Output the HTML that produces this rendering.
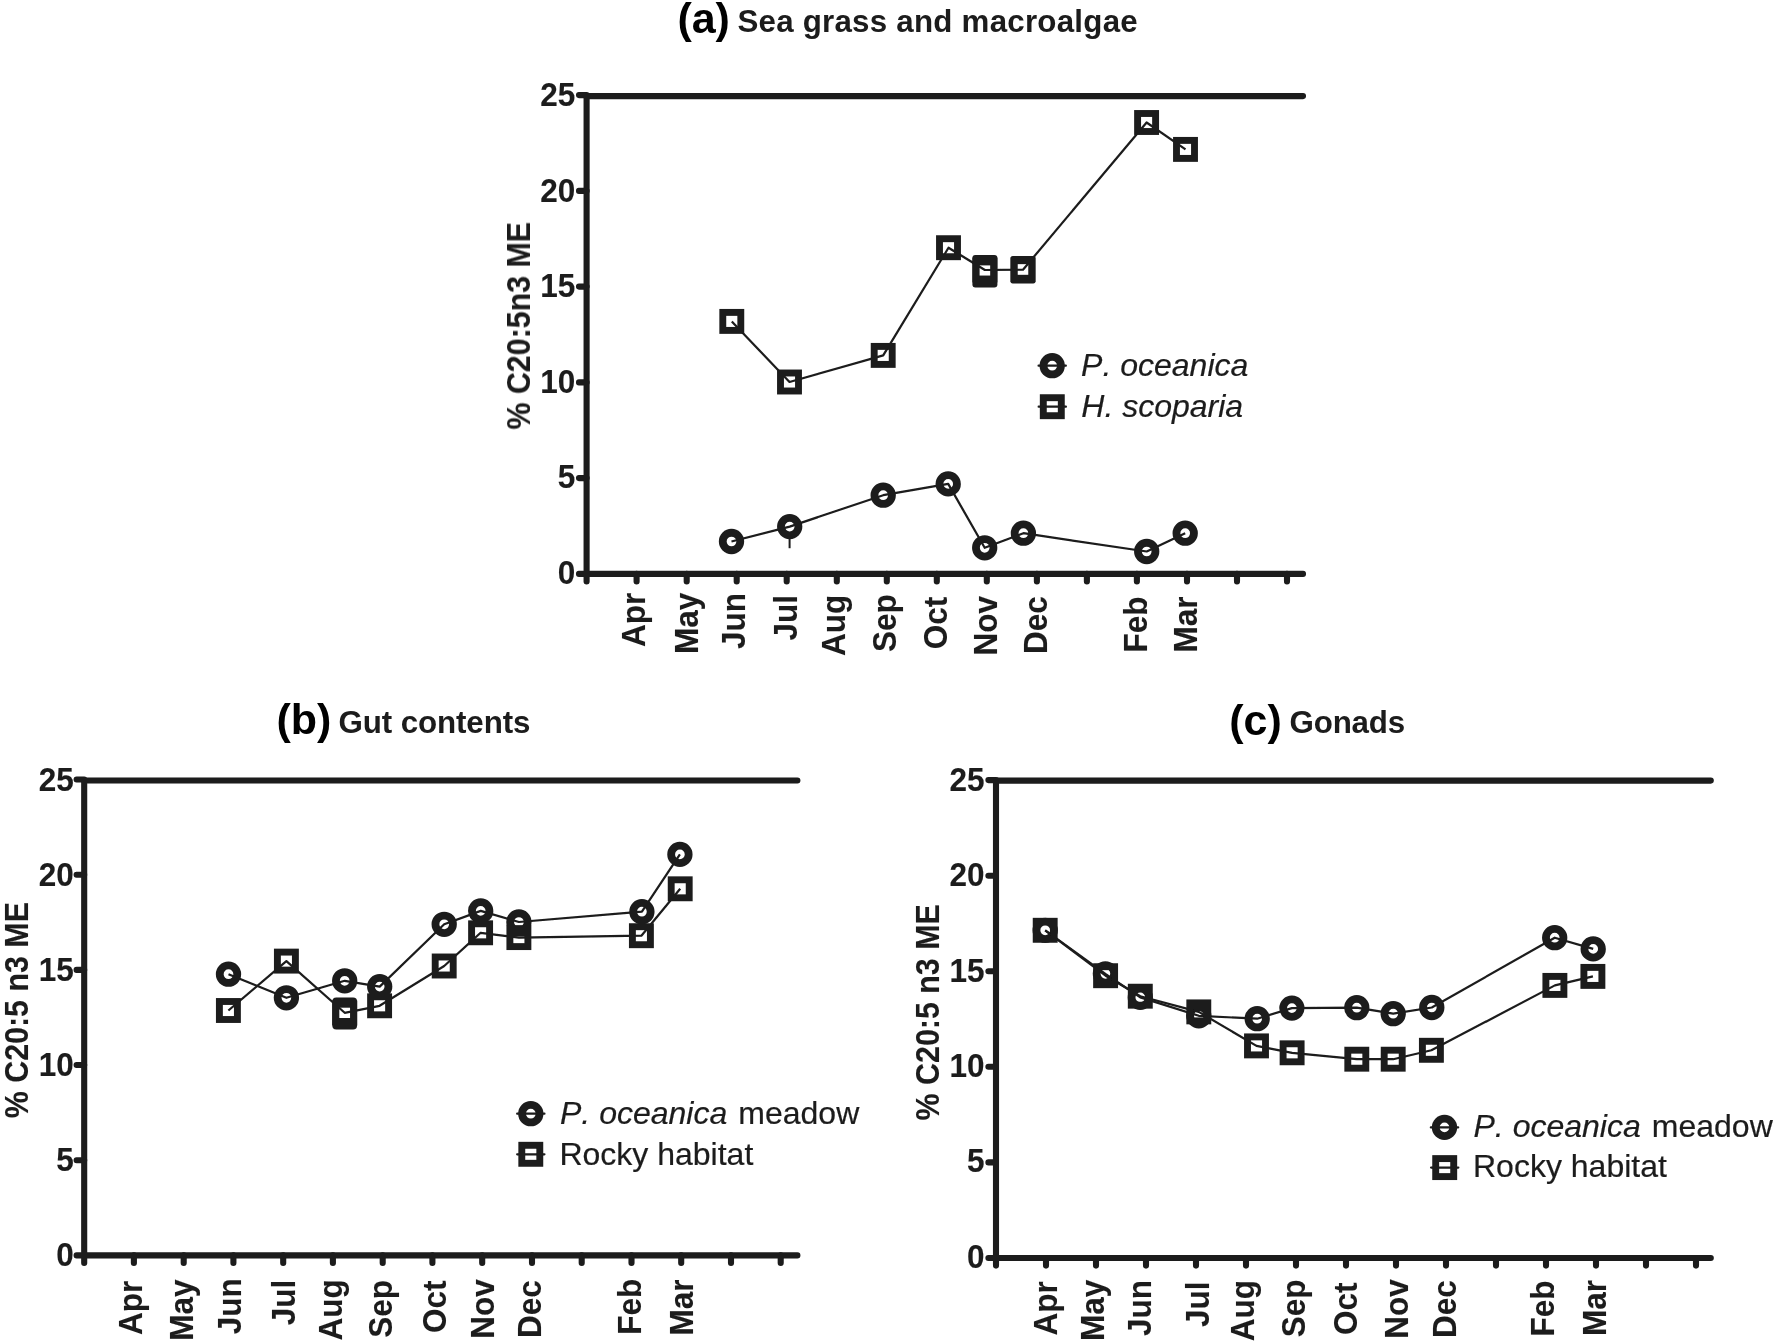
<!DOCTYPE html>
<html lang="en"><head><meta charset="utf-8"><title>Seasonal % C20:5n3 ME</title>
<style>
html,body{margin:0;padding:0;background:#fff}
svg{display:block}
text{font-family:"Liberation Sans",Arial,Helvetica,sans-serif;fill:#1b1b1b}
.b{font-weight:bold;font-size:31.5px;stroke:#1b1b1b;stroke-width:0.1px;stroke-linejoin:round}
.t{font-weight:bold;font-size:31.3px}
.tag{font-weight:bold;font-size:43px;fill:#000}
.i{font-style:italic}
.lg{white-space:pre;font-kerning:none;stroke:#1b1b1b;stroke-width:0.2px}
</style></head><body>
<svg width="1776" height="1344" viewBox="0 0 1776 1344">
<defs><filter id="soft" x="0" y="0" width="1776" height="1344" filterUnits="userSpaceOnUse"><feGaussianBlur stdDeviation="0.45"/></filter></defs>
<rect width="1776" height="1344" fill="#fff"/>
<g filter="url(#soft)">
<path d="M586.6 96.1V581.5M579.0 573.9H1303.0M586.6 96.1H1303.0" fill="none" stroke="#1b1b1b" stroke-width="6.1" stroke-linecap="round" stroke-linejoin="round"/>
<path d="M636.6 573.9v7.6M686.7 573.9v7.6M736.7 573.9v7.6M786.7 573.9v7.6M836.8 573.9v7.6M886.8 573.9v7.6M936.8 573.9v7.6M986.8 573.9v7.6M1036.9 573.9v7.6M1086.9 573.9v7.6M1136.9 573.9v7.6M1187.0 573.9v7.6M1237.0 573.9v7.6M1287.0 573.9v7.6M586.6 478.1h-7.6M586.6 382.4h-7.6M586.6 286.6h-7.6M586.6 190.9h-7.6M586.6 95.1h-7.6" fill="none" stroke="#1b1b1b" stroke-width="6.1" stroke-linecap="round"/>
<text transform="translate(575.3 583.6) scale(1 1.03)" text-anchor="end" class="b">0</text>
<text transform="translate(575.3 488.1) scale(1 1.03)" text-anchor="end" class="b">5</text>
<text transform="translate(575.3 392.6) scale(1 1.03)" text-anchor="end" class="b">10</text>
<text transform="translate(575.3 297.1) scale(1 1.03)" text-anchor="end" class="b">15</text>
<text transform="translate(575.3 201.6) scale(1 1.03)" text-anchor="end" class="b">20</text>
<text transform="translate(575.3 106.1) scale(1 1.03)" text-anchor="end" class="b">25</text>
<text transform="translate(529.9 429.6) rotate(-90) scale(0.95 1.03)" class="b" style="font-size:32px">% C20:5n3 ME</text>
<text x="677.4" y="33.0" class="tag">(a)</text>
<text transform="translate(737.4 31.6) scale(1 1.03)" class="t" textLength="400.3" lengthAdjust="spacing">Sea grass and macroalgae</text>
<text transform="translate(644.6 646.9) rotate(-90) scale(1.0 1.03)" class="b" style="font-size:31.5px">Apr</text>
<text transform="translate(697.7 654.0) rotate(-90) scale(1.0 1.03)" class="b" style="font-size:31.5px">May</text>
<text transform="translate(744.9 649.0) rotate(-90) scale(1.0 1.03)" class="b" style="font-size:31.5px">Jun</text>
<text transform="translate(797.2 640.6) rotate(-90) scale(1.0 1.03)" class="b" style="font-size:31.5px">Jul</text>
<text transform="translate(844.6 655.9) rotate(-90) scale(1.0 1.03)" class="b" style="font-size:31.5px">Aug</text>
<text transform="translate(896.3 652.0) rotate(-90) scale(1.0 1.03)" class="b" style="font-size:31.5px">Sep</text>
<text transform="translate(946.8 649.3) rotate(-90) scale(1.0 1.03)" class="b" style="font-size:31.5px">Oct</text>
<text transform="translate(996.8 655.5) rotate(-90) scale(1.0 1.03)" class="b" style="font-size:31.5px">Nov</text>
<text transform="translate(1047.3 653.9) rotate(-90) scale(1.0 1.03)" class="b" style="font-size:31.5px">Dec</text>
<text transform="translate(1147.1 652.6) rotate(-90) scale(1.0 1.03)" class="b" style="font-size:31.5px">Feb</text>
<text transform="translate(1196.8 652.6) rotate(-90) scale(1.0 1.03)" class="b" style="font-size:31.5px">Mar</text>
<path d="M789.6 535V548.2" stroke="#1b1b1b" stroke-width="2"/>
<rect x="972.4" y="255" width="25" height="32.4" rx="3" fill="#1b1b1b"/><rect x="979.4" y="265.4" width="11" height="10.6" fill="#fff"/>
<rect x="1010.6" y="255.9" width="24.8" height="27.5" rx="2" fill="#1b1b1b"/><rect x="1017.5" y="264" width="11" height="10.8" fill="#fff"/>
<path d="M731.5 541.5L789.7 526.6L883.2 495.2L948.2 483.9L984.7 547.8L1023.4 533.2L1146.7 551.5L1185.2 533.2" fill="none" stroke="#1b1b1b" stroke-width="2.2" stroke-linejoin="round"/>
<circle cx="731.5" cy="541.5" r="8.75" fill="none" stroke="#1b1b1b" stroke-width="7.8"/>
<circle cx="789.7" cy="526.6" r="8.75" fill="none" stroke="#1b1b1b" stroke-width="7.8"/>
<circle cx="883.2" cy="495.2" r="8.75" fill="none" stroke="#1b1b1b" stroke-width="7.8"/>
<circle cx="948.2" cy="483.9" r="8.75" fill="none" stroke="#1b1b1b" stroke-width="7.8"/>
<circle cx="984.7" cy="547.8" r="8.75" fill="none" stroke="#1b1b1b" stroke-width="7.8"/>
<circle cx="1023.4" cy="533.2" r="8.75" fill="none" stroke="#1b1b1b" stroke-width="7.8"/>
<circle cx="1146.7" cy="551.5" r="8.75" fill="none" stroke="#1b1b1b" stroke-width="7.8"/>
<circle cx="1185.2" cy="533.2" r="8.75" fill="none" stroke="#1b1b1b" stroke-width="7.8"/>
<path d="M731.8 321.4L789.5 382.0L883.2 355.4L948.5 247.7L984.9 270.0L1023.0 269.7L1146.6 122.5L1185.5 149.4" fill="none" stroke="#1b1b1b" stroke-width="2.2" stroke-linejoin="round"/>
<rect x="722.8" y="312.4" width="18" height="18" fill="none" stroke="#1b1b1b" stroke-width="6.9"/>
<rect x="780.5" y="373.0" width="18" height="18" fill="none" stroke="#1b1b1b" stroke-width="6.9"/>
<rect x="874.2" y="346.4" width="18" height="18" fill="none" stroke="#1b1b1b" stroke-width="6.9"/>
<rect x="939.5" y="238.7" width="18" height="18" fill="none" stroke="#1b1b1b" stroke-width="6.9"/>
<rect x="975.9" y="261.0" width="18" height="18" fill="none" stroke="#1b1b1b" stroke-width="6.9"/>
<rect x="1014.0" y="260.7" width="18" height="18" fill="none" stroke="#1b1b1b" stroke-width="6.9"/>
<rect x="1137.6" y="113.5" width="18" height="18" fill="none" stroke="#1b1b1b" stroke-width="6.9"/>
<rect x="1176.5" y="140.4" width="18" height="18" fill="none" stroke="#1b1b1b" stroke-width="6.9"/>
<path d="M1038.6 365.7h27.2" stroke="#1b1b1b" stroke-width="2.3" stroke-linecap="round"/>
<circle cx="1052.2" cy="365.7" r="8.75" fill="none" stroke="#1b1b1b" stroke-width="7.8"/>
<path d="M1038.7 406.7h27.2" stroke="#1b1b1b" stroke-width="2.3" stroke-linecap="round"/>
<rect x="1043.3" y="397.7" width="18" height="18" fill="none" stroke="#1b1b1b" stroke-width="6.9"/>
<text x="1081.1" y="375.7" class="lg" style="font-size:32px"><tspan class="i">P. oceanica</tspan></text>
<text x="1081.3" y="416.6" class="lg" style="font-size:32px"><tspan class="i">H. scoparia</tspan></text>
<path d="M84.2 780.5V1263.0M76.6 1255.4H797.4M84.2 780.5H797.4" fill="none" stroke="#1b1b1b" stroke-width="6.1" stroke-linecap="round" stroke-linejoin="round"/>
<path d="M133.9 1255.4v7.6M183.7 1255.4v7.6M233.4 1255.4v7.6M283.2 1255.4v7.6M332.9 1255.4v7.6M382.7 1255.4v7.6M432.4 1255.4v7.6M482.2 1255.4v7.6M532.0 1255.4v7.6M581.7 1255.4v7.6M631.5 1255.4v7.6M681.2 1255.4v7.6M731.0 1255.4v7.6M780.7 1255.4v7.6M84.2 1160.2h-7.6M84.2 1065.0h-7.6M84.2 969.9h-7.6M84.2 874.7h-7.6M84.2 779.5h-7.6" fill="none" stroke="#1b1b1b" stroke-width="6.1" stroke-linecap="round"/>
<text transform="translate(73.8 1265.8) scale(1 1.03)" text-anchor="end" class="b">0</text>
<text transform="translate(73.8 1170.8) scale(1 1.03)" text-anchor="end" class="b">5</text>
<text transform="translate(73.8 1075.8) scale(1 1.03)" text-anchor="end" class="b">10</text>
<text transform="translate(73.8 980.8) scale(1 1.03)" text-anchor="end" class="b">15</text>
<text transform="translate(73.8 885.8) scale(1 1.03)" text-anchor="end" class="b">20</text>
<text transform="translate(73.8 790.8) scale(1 1.03)" text-anchor="end" class="b">25</text>
<text transform="translate(27.9 1118.2) rotate(-90) scale(0.95 1.03)" class="b" style="font-size:32px">% C20:5 n3 ME</text>
<text x="276.5" y="734.3" class="tag">(b)</text>
<text transform="translate(338.5 733.0) scale(1 1.03)" class="t" textLength="191.9" lengthAdjust="spacing">Gut contents</text>
<text transform="translate(141.7 1335.0) rotate(-90) scale(1.0 1.03)" class="b" style="font-size:31.5px">Apr</text>
<text transform="translate(193.2 1340.7) rotate(-90) scale(1.0 1.03)" class="b" style="font-size:31.5px">May</text>
<text transform="translate(241.3 1334.3) rotate(-90) scale(1.0 1.03)" class="b" style="font-size:31.5px">Jun</text>
<text transform="translate(294.5 1325.2) rotate(-90) scale(1.0 1.03)" class="b" style="font-size:31.5px">Jul</text>
<text transform="translate(341.7 1340.5) rotate(-90) scale(1.0 1.03)" class="b" style="font-size:31.5px">Aug</text>
<text transform="translate(391.8 1337.8) rotate(-90) scale(1.0 1.03)" class="b" style="font-size:31.5px">Sep</text>
<text transform="translate(446.1 1333.0) rotate(-90) scale(1.0 1.03)" class="b" style="font-size:31.5px">Oct</text>
<text transform="translate(494.0 1338.8) rotate(-90) scale(1.0 1.03)" class="b" style="font-size:31.5px">Nov</text>
<text transform="translate(540.8 1337.9) rotate(-90) scale(1.0 1.03)" class="b" style="font-size:31.5px">Dec</text>
<text transform="translate(641.0 1334.8) rotate(-90) scale(1.0 1.03)" class="b" style="font-size:31.5px">Feb</text>
<text transform="translate(692.7 1335.5) rotate(-90) scale(1.0 1.03)" class="b" style="font-size:31.5px">Mar</text>
<rect x="332.3" y="997.6" width="24.8" height="32" rx="4" fill="#1b1b1b"/><rect x="339.2" y="1007.6" width="11" height="10.4" fill="#fff"/>
<path d="M228.5 974.2L286.4 997.8L344.7 980.8L379.7 986.6L444.2 924.3L480.7 910.9L518.9 922.0L641.9 911.7L679.9 854.4" fill="none" stroke="#1b1b1b" stroke-width="2.2" stroke-linejoin="round"/>
<circle cx="228.5" cy="974.2" r="8.75" fill="none" stroke="#1b1b1b" stroke-width="7.8"/>
<circle cx="286.4" cy="997.8" r="8.75" fill="none" stroke="#1b1b1b" stroke-width="7.8"/>
<circle cx="344.7" cy="980.8" r="8.75" fill="none" stroke="#1b1b1b" stroke-width="7.8"/>
<circle cx="379.7" cy="986.6" r="8.75" fill="none" stroke="#1b1b1b" stroke-width="7.8"/>
<circle cx="444.2" cy="924.3" r="8.75" fill="none" stroke="#1b1b1b" stroke-width="7.8"/>
<circle cx="480.7" cy="910.9" r="8.75" fill="none" stroke="#1b1b1b" stroke-width="7.8"/>
<circle cx="518.9" cy="922.0" r="8.75" fill="none" stroke="#1b1b1b" stroke-width="7.8"/>
<circle cx="641.9" cy="911.7" r="8.75" fill="none" stroke="#1b1b1b" stroke-width="7.8"/>
<circle cx="679.9" cy="854.4" r="8.75" fill="none" stroke="#1b1b1b" stroke-width="7.8"/>
<path d="M228.4 1010.5L286.4 961.1L344.7 1012.8L379.6 1005.8L444.2 966.0L480.6 932.8L518.9 937.6L641.4 935.7L680.2 888.8" fill="none" stroke="#1b1b1b" stroke-width="2.2" stroke-linejoin="round"/>
<rect x="219.4" y="1001.5" width="18" height="18" fill="none" stroke="#1b1b1b" stroke-width="6.9"/>
<rect x="277.4" y="952.1" width="18" height="18" fill="none" stroke="#1b1b1b" stroke-width="6.9"/>
<rect x="335.7" y="1003.8" width="18" height="18" fill="none" stroke="#1b1b1b" stroke-width="6.9"/>
<rect x="370.6" y="996.8" width="18" height="18" fill="none" stroke="#1b1b1b" stroke-width="6.9"/>
<rect x="435.2" y="957.0" width="18" height="18" fill="none" stroke="#1b1b1b" stroke-width="6.9"/>
<rect x="471.6" y="923.8" width="18" height="18" fill="none" stroke="#1b1b1b" stroke-width="6.9"/>
<rect x="509.9" y="928.6" width="18" height="18" fill="none" stroke="#1b1b1b" stroke-width="6.9"/>
<rect x="632.4" y="926.7" width="18" height="18" fill="none" stroke="#1b1b1b" stroke-width="6.9"/>
<rect x="671.2" y="879.8" width="18" height="18" fill="none" stroke="#1b1b1b" stroke-width="6.9"/>
<rect x="512.5" y="930.5" width="13" height="6" fill="#1b1b1b"/>
<path d="M517.2 1113.7h27.2" stroke="#1b1b1b" stroke-width="2.3" stroke-linecap="round"/>
<circle cx="530.8" cy="1113.7" r="8.75" fill="none" stroke="#1b1b1b" stroke-width="7.8"/>
<path d="M517.2 1154.3h27.2" stroke="#1b1b1b" stroke-width="2.3" stroke-linecap="round"/>
<rect x="521.8" y="1145.3" width="18" height="18" fill="none" stroke="#1b1b1b" stroke-width="6.9"/>
<text x="560.0" y="1124.3" class="lg" style="font-size:32px"><tspan class="i">P. oceanica</tspan><tspan dx="2.2"> meadow</tspan></text>
<text x="559.4" y="1164.5" class="lg" style="font-size:32px">Rocky habitat</text>
<path d="M996.0 780.6V1265.6M988.4 1258.0H1710.8M996.0 780.6H1710.8" fill="none" stroke="#1b1b1b" stroke-width="6.1" stroke-linecap="round" stroke-linejoin="round"/>
<path d="M1046.0 1258.0v7.6M1096.0 1258.0v7.6M1146.0 1258.0v7.6M1196.0 1258.0v7.6M1246.0 1258.0v7.6M1296.0 1258.0v7.6M1346.0 1258.0v7.6M1396.0 1258.0v7.6M1446.0 1258.0v7.6M1496.0 1258.0v7.6M1546.0 1258.0v7.6M1596.0 1258.0v7.6M1646.0 1258.0v7.6M1696.0 1258.0v7.6M996.0 1162.4h-7.6M996.0 1066.8h-7.6M996.0 971.3h-7.6M996.0 875.7h-7.6M996.0 780.1h-7.6" fill="none" stroke="#1b1b1b" stroke-width="6.1" stroke-linecap="round"/>
<text transform="translate(984.6 1267.7) scale(1 1.03)" text-anchor="end" class="b">0</text>
<text transform="translate(984.6 1172.3) scale(1 1.03)" text-anchor="end" class="b">5</text>
<text transform="translate(984.6 1076.9) scale(1 1.03)" text-anchor="end" class="b">10</text>
<text transform="translate(984.6 981.6) scale(1 1.03)" text-anchor="end" class="b">15</text>
<text transform="translate(984.6 886.2) scale(1 1.03)" text-anchor="end" class="b">20</text>
<text transform="translate(984.6 790.8) scale(1 1.03)" text-anchor="end" class="b">25</text>
<text transform="translate(938.9 1120.4) rotate(-90) scale(0.95 1.03)" class="b" style="font-size:32px">% C20:5 n3 ME</text>
<text x="1229.3" y="734.5" class="tag">(c)</text>
<text transform="translate(1289.5 733.1) scale(1 1.03)" class="t" textLength="115.7" lengthAdjust="spacing">Gonads</text>
<text transform="translate(1056.8 1335.4) rotate(-90) scale(1.0 1.03)" class="b" style="font-size:31.5px">Apr</text>
<text transform="translate(1103.7 1341.0) rotate(-90) scale(1.0 1.03)" class="b" style="font-size:31.5px">May</text>
<text transform="translate(1150.9 1336.0) rotate(-90) scale(1.0 1.03)" class="b" style="font-size:31.5px">Jun</text>
<text transform="translate(1208.5 1327.1) rotate(-90) scale(1.0 1.03)" class="b" style="font-size:31.5px">Jul</text>
<text transform="translate(1253.8 1341.3) rotate(-90) scale(1.0 1.03)" class="b" style="font-size:31.5px">Aug</text>
<text transform="translate(1304.6 1337.3) rotate(-90) scale(1.0 1.03)" class="b" style="font-size:31.5px">Sep</text>
<text transform="translate(1357.3 1334.9) rotate(-90) scale(1.0 1.03)" class="b" style="font-size:31.5px">Oct</text>
<text transform="translate(1407.5 1338.7) rotate(-90) scale(1.0 1.03)" class="b" style="font-size:31.5px">Nov</text>
<text transform="translate(1455.9 1337.9) rotate(-90) scale(1.0 1.03)" class="b" style="font-size:31.5px">Dec</text>
<text transform="translate(1553.9 1336.4) rotate(-90) scale(1.0 1.03)" class="b" style="font-size:31.5px">Feb</text>
<text transform="translate(1605.7 1336.0) rotate(-90) scale(1.0 1.03)" class="b" style="font-size:31.5px">Mar</text>
<path d="M1045.2 930.3L1105.4 973.8L1140.3 997.4L1198.8 1015.8L1257.2 1018.7L1291.9 1008.1L1356.8 1007.7L1393.2 1013.7L1431.8 1007.5L1554.7 937.7L1593.2 948.9" fill="none" stroke="#1b1b1b" stroke-width="2.2" stroke-linejoin="round"/>
<circle cx="1045.2" cy="930.3" r="8.75" fill="none" stroke="#1b1b1b" stroke-width="7.8"/>
<circle cx="1105.4" cy="973.8" r="8.75" fill="none" stroke="#1b1b1b" stroke-width="7.8"/>
<circle cx="1140.3" cy="997.4" r="8.75" fill="none" stroke="#1b1b1b" stroke-width="7.8"/>
<circle cx="1198.8" cy="1015.8" r="8.75" fill="none" stroke="#1b1b1b" stroke-width="7.8"/>
<circle cx="1257.2" cy="1018.7" r="8.75" fill="none" stroke="#1b1b1b" stroke-width="7.8"/>
<circle cx="1291.9" cy="1008.1" r="8.75" fill="none" stroke="#1b1b1b" stroke-width="7.8"/>
<circle cx="1356.8" cy="1007.7" r="8.75" fill="none" stroke="#1b1b1b" stroke-width="7.8"/>
<circle cx="1393.2" cy="1013.7" r="8.75" fill="none" stroke="#1b1b1b" stroke-width="7.8"/>
<circle cx="1431.8" cy="1007.5" r="8.75" fill="none" stroke="#1b1b1b" stroke-width="7.8"/>
<circle cx="1554.7" cy="937.7" r="8.75" fill="none" stroke="#1b1b1b" stroke-width="7.8"/>
<circle cx="1593.2" cy="948.9" r="8.75" fill="none" stroke="#1b1b1b" stroke-width="7.8"/>
<path d="M1045.2 930.3L1105.6 975.7L1140.3 996.2L1198.8 1011.9L1256.5 1045.9L1292.1 1052.8L1356.8 1059.2L1393.2 1059.2L1431.4 1050.3L1554.9 985.4L1592.9 976.4" fill="none" stroke="#1b1b1b" stroke-width="2.2" stroke-linejoin="round"/>
<rect x="1036.2" y="921.3" width="18" height="18" fill="none" stroke="#1b1b1b" stroke-width="6.9"/>
<rect x="1096.6" y="966.7" width="18" height="18" fill="none" stroke="#1b1b1b" stroke-width="6.9"/>
<rect x="1131.3" y="987.2" width="18" height="18" fill="none" stroke="#1b1b1b" stroke-width="6.9"/>
<rect x="1189.8" y="1002.9" width="18" height="18" fill="none" stroke="#1b1b1b" stroke-width="6.9"/>
<rect x="1247.5" y="1036.9" width="18" height="18" fill="none" stroke="#1b1b1b" stroke-width="6.9"/>
<rect x="1283.1" y="1043.8" width="18" height="18" fill="none" stroke="#1b1b1b" stroke-width="6.9"/>
<rect x="1347.8" y="1050.2" width="18" height="18" fill="none" stroke="#1b1b1b" stroke-width="6.9"/>
<rect x="1384.2" y="1050.2" width="18" height="18" fill="none" stroke="#1b1b1b" stroke-width="6.9"/>
<rect x="1422.4" y="1041.3" width="18" height="18" fill="none" stroke="#1b1b1b" stroke-width="6.9"/>
<rect x="1545.9" y="976.4" width="18" height="18" fill="none" stroke="#1b1b1b" stroke-width="6.9"/>
<rect x="1583.9" y="967.4" width="18" height="18" fill="none" stroke="#1b1b1b" stroke-width="6.9"/>
<path d="M1430.9 1127.4h27.2" stroke="#1b1b1b" stroke-width="2.3" stroke-linecap="round"/>
<circle cx="1444.5" cy="1127.4" r="8.75" fill="none" stroke="#1b1b1b" stroke-width="7.8"/>
<path d="M1431.1 1167.6h27.2" stroke="#1b1b1b" stroke-width="2.3" stroke-linecap="round"/>
<rect x="1435.7" y="1158.6" width="18" height="18" fill="none" stroke="#1b1b1b" stroke-width="6.9"/>
<text x="1473.5" y="1137.0" class="lg" style="font-size:32px"><tspan class="i">P. oceanica</tspan><tspan dx="2.2"> meadow</tspan></text>
<text x="1473.0" y="1177.2" class="lg" style="font-size:32px">Rocky habitat</text>
</g>
</svg>
</body></html>
